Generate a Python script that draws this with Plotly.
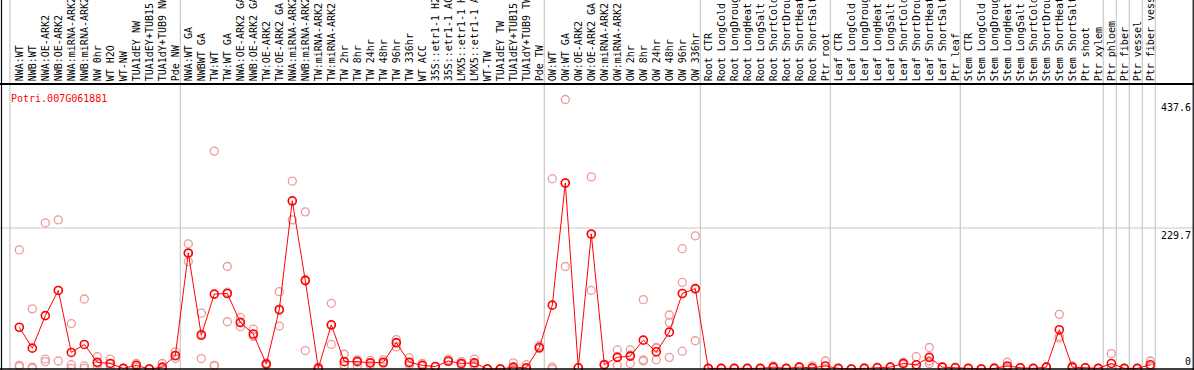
import plotly.graph_objects as go

gene_name = "Potri.007G061881"

labels = [
    "NWA:WT", "NWB:WT", "NWA:OE-ARK2", "NWB:OE-ARK2", "NWA:miRNA-ARK2", "NWB:miRNA-ARK2",
    "NW 0hr", "WT H2O", "WT-NW", "TUA1dEY NW", "TUA1dEY+TUB15", "TUA1dY+TUB9 NW", "Pde NW",
    "NWA:WT GA", "NWBWT GA", "TW:WT", "TW:WT GA", "NWA:OE-ARK2 GA", "NWB:OE-ARK2 GA",
    "TW:OE-ARK2", "TW:OE-ARK2 GA", "NWA:miRNA-ARK2", "NWB:miRNA-ARK2", "TW:miRNA-ARK2",
    "TW:miRNA-ARK2", "TW 2hr", "TW 8hr", "TW 24hr", "TW 48hr", "TW 96hr", "TW 336hr",
    "WT ACC", "35S::etr1-1 H2", "35S::etr1-1 AC", "LMX5::etr1-1 H", "LMX5::etr1-1 A",
    "WT-TW", "TUA1dEY TW", "TUA1dEY+TUB15", "TUA1dY+TUB9 TW", "Pde TW",
    "OW:WT", "OW:WT GA", "OW:OE-ARK2", "OW:OE-ARK2 GA", "OW:miRNA-ARK2", "OW:miRNA-ARK2",
    "OW 2hr", "OW 8hr", "OW 24hr", "OW 48hr", "OW 96hr", "OW 336hr",
    "Root CTR", "Root LongCold", "Root LongDroug", "Root LongHeat", "Root LongSalt",
    "Root ShortCold", "Root ShortDrou", "Root ShortHeat", "Root ShortSalt", "Ptr root",
    "Leaf CTR", "Leaf LongCold", "Leaf LongDroug", "Leaf LongHeat", "Leaf LongSalt",
    "Leaf ShortCold", "Leaf ShortDrou", "Leaf ShortHeat", "Leaf ShortSalt", "Ptr leaf",
    "Stem CTR", "Stem LongCold", "Stem LongDroug", "Stem LongHeat", "Stem LongSalt",
    "Stem ShortCold", "Stem ShortDrou", "Stem ShortHeat", "Stem ShortSalt", "Ptr shoot",
    "Ptr xylem", "Ptr phloem", "Ptr fiber", "Ptr vessel", "Ptr fiber vess",
]

group_sizes = [13, 28, 12, 10, 10, 11, 1, 1, 1, 1]

mean_vals = [
    68, 34, 87, 128, 27, 40, 11, 9, 1, 6, 0, 3, 22,
    189, 55, 122, 123, 76, 57, 8, 97, 274, 144, 1, 72, 12, 12, 10, 11, 43,
    11, 6, 4, 13, 9, 10, 0, 0, 3, 2, 35,
    104, 303, 2, 220, 7, 19, 21, 47, 28, 60, 123, 131,
    1, 1, 1, 1, 1, 3, 1, 3, 2, 5,
    1, 0, 1, 2, 3, 9, 7, 19, 3, 2,
    1, 0, 1, 5, 2, 1, 3, 64, 3, 2, 1,
    9, 1, 1, 7,
]

rep_a = [
    194, 98, 238, 243, 74, 114, 20, 16, 1, 9, 0, 9, 28,
    204, 91, 355, 167, 84, 65, 10, 126, 306, 256, 3, 107, 24, 15, 14, 15, 48,
    18, 9, 4, 16, 12, 16, 0, 0, 10, 7, 38,
    310, 439, 2, 313, 8, 31, 31, 113, 35, 88, 196, 217,
    1, 1, 1, 1, 1, 5, 1, 3, 5, 13,
    1, 0, 2, 3, 3, 11, 20, 35, 3, 3,
    1, 0, 2, 11, 2, 1, 3, 89, 5, 2, 1,
    25, 1, 1, 13,
]

rep_b = [
    4, 3, 16, 13, 7, 5, 5, 3, 1, 6, 0, 0, 17,
    175, 17, 5, 77, 69, 53, 8, 70, 243, 30, 0, 40, 5, 5, 6, 9, 36,
    6, 5, 4, 12, 7, 6, 0, 0, 0, 0, 33,
    3, 167, 2, 128, 6, 6, 9, 15, 15, 76, 141, 46,
    1, 1, 1, 1, 1, 2, 1, 3, 1, 1,
    1, 0, 1, 2, 3, 9, 1, 9, 3, 2,
    1, 0, 1, 2, 2, 1, 3, 50, 2, 2, 1,
    1, 1, 1, 4,
]

rep_c = [
    6, 1, 12, 128, 1, 1, 9, 8, 1, 3, 0, 0, 21,
    188, 57, 6, 125, 75, 54, 6, 95, 273, 146, 0, 71, 7, 14, 10, 9, 42,
    9, 4, 4, 12, 8, 7, 0, 0, 0, 0, 34,
    0, 303, 2, 219, 7, 20, 23, 13, 34, 19, 29, 130,
    1, 1, 1, 1, 1, 2, 1, 3, 0, 1,
    1, 0, 1, 2, 3, 7, 0, 13, 3, 2,
    1, 0, 1, 2, 2, 1, 3, 53, 2, 2, 1,
    1, 1, 1, 4,
]

axis_labels = ["437.6", "229.7", "0"]
axis_values = [437.6, 229.7, 0]

# ---------------- layout geometry ----------------
W, H = 1194, 370
n = len(labels)
xs = list(range(1, n + 1))
col_px0, col_step = 19.3, 13.0          # pixel position of first column, spacing
x_lo = 1 - col_px0 / col_step
x_hi = x_lo + W / col_step

label_band = 85                          # pixels taken by the rotated labels
zero_px = 369
scale = 141 / 229.7                      # px per unit
y_lo = (zero_px - H) / scale
y_hi = (zero_px - label_band) / scale
dom_top = (H - label_band) / H

mono = "DejaVu Sans Mono"
red = "#ff0000"
pink = "#ec9a9a"
grid = "#c8c8c8"

fig = go.Figure()

for reps in (rep_a, rep_b, rep_c):
    fig.add_trace(go.Scatter(
        x=xs, y=reps, mode="markers",
        marker=dict(symbol="circle-open", size=8, color=pink, line=dict(width=1.3, color=pink)),
        showlegend=False, hoverinfo="skip",
    ))

fig.add_trace(go.Scatter(
    x=xs, y=mean_vals, mode="lines+markers",
    line=dict(color=red, width=1),
    marker=dict(symbol="circle-open", size=8, color=red, line=dict(width=1.6, color=red)),
    showlegend=False,
))

shapes = []
# vertical group separators
bounds = [0]
for g in group_sizes:
    bounds.append(bounds[-1] + g)
for b in bounds:
    xb = b + 5 / col_step if b > 0 else b + 0.28
    shapes.append(dict(type="line", xref="x", yref="paper", x0=xb, x1=xb, y0=0, y1=1,
                       line=dict(color=grid, width=1.2), layer="below"))
# horizontal grid at middle value
shapes.append(dict(type="line", xref="paper", yref="y", x0=0, x1=1, y0=axis_values[1], y1=axis_values[1],
                   line=dict(color=grid, width=1.2), layer="below"))
# frame lines
shapes.append(dict(type="line", xref="paper", yref="y", x0=0, x1=1, y0=0, y1=0,
                   line=dict(color="black", width=1.5)))
shapes.append(dict(type="line", xref="paper", yref="paper", x0=1.5 / W, x1=1.5 / W, y0=0, y1=1,
                   line=dict(color="black", width=1.2)))
shapes.append(dict(type="line", xref="paper", yref="paper", x0=1 - 0.8 / W, x1=1 - 0.8 / W, y0=0, y1=1,
                   line=dict(color="black", width=1.2)))

annotations = [
    dict(text=gene_name, xref="paper", yref="paper", x=9 / W, y=1 - 91 / H,
         xanchor="left", yanchor="top", showarrow=False,
         font=dict(family=mono, size=10, color=red)),
]
for lab, val in zip(axis_labels, axis_values):
    annotations.append(dict(
        text=lab, xref="paper", yref="y", x=1 - 1 / W, y=val,
        xanchor="right", yanchor="bottom" if val == 0 else "top",
        showarrow=False,
        font=dict(family=mono, size=10, color="black"),
    ))

fig.update_layout(
    width=W, height=H,
    margin=dict(l=0, r=0, t=0, b=0),
    paper_bgcolor="white", plot_bgcolor="white",
    shapes=shapes, annotations=annotations,
    xaxis=dict(
        range=[x_lo, x_hi], side="top", tickmode="array", tickvals=xs, ticktext=labels,
        tickangle=-90, tickfont=dict(family=mono, size=10, color="black"),
        showgrid=False, zeroline=False, showline=True, linecolor="black", linewidth=1.5,
        ticks="", automargin=False, ticklabelstandoff=0,
    ),
    yaxis=dict(
        range=[y_lo, y_hi], domain=[0, dom_top], visible=False, showgrid=False, zeroline=False,
    ),
)

fig.write_html(
    "out.html",
    config={"displayModeBar": False},
    post_script=(
        "document.documentElement.style.margin='0';"
        "document.documentElement.style.overflow='hidden';"
        "document.body.style.margin='0';document.body.style.padding='0';"
        "document.body.style.overflow='hidden';"
    ),
)
